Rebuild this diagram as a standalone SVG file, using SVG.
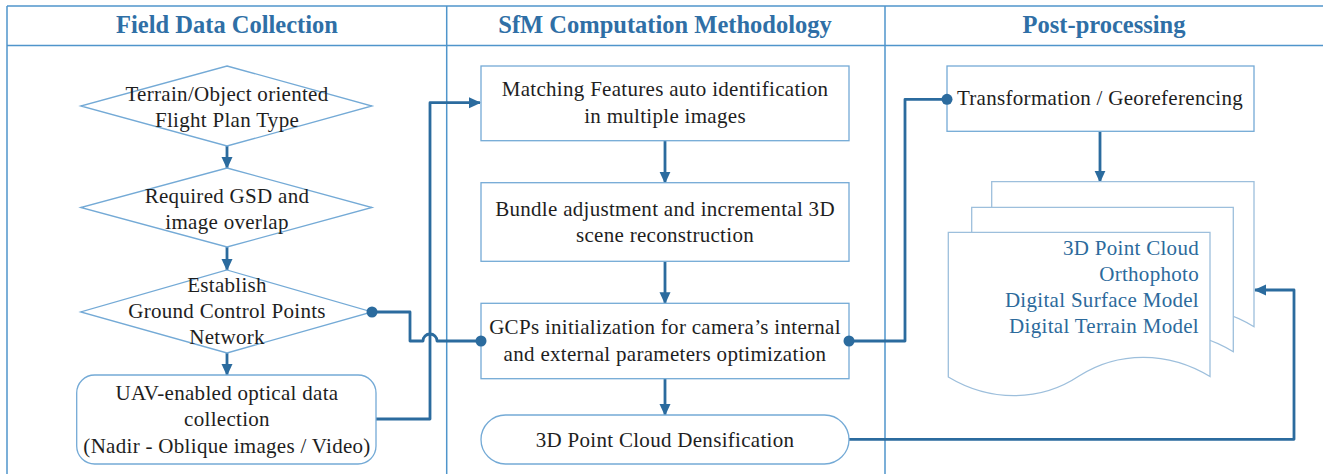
<svg xmlns="http://www.w3.org/2000/svg" width="1323" height="474" viewBox="0 0 1323 474">
<style>
.frame{stroke:#4f95cb;stroke-width:1.5;fill:none}
.hdr{font-weight:bold;font-size:24.5px;fill:#2f6fa6;text-anchor:middle}
.node{fill:#fff;stroke:#74aad6;stroke-width:1.3}
.doc{fill:#fff;stroke:#9dbfdc;stroke-width:1.3}
.t{font-size:21px;fill:#1e1e1e;text-anchor:middle;letter-spacing:0.3px}
.dt{font-size:21px;fill:#2c6a9c;text-anchor:end;letter-spacing:0.3px}
.c{fill:none;stroke:#2b6b9e;stroke-width:2.8;stroke-linejoin:round}
.dot{fill:#2b6b9e}
</style>
<defs>
<marker id="ah" markerUnits="userSpaceOnUse" markerWidth="12" markerHeight="12" viewBox="0 0 12 12" refX="11" refY="6" orient="auto">
<path d="M0,0.5 L12,6 L0,11.5 Z" fill="#2b6b9e"/>
</marker>
</defs>
<rect width="1323" height="474" fill="#fff"/>
<g font-family="Liberation Serif, Times New Roman, serif">
<g id="frame">
<line class="frame" x1="7" y1="6" x2="1323" y2="6"/>
<line class="frame" x1="7" y1="45.5" x2="1323" y2="45.5"/>
<line class="frame" x1="7" y1="6" x2="7" y2="474"/>
<line class="frame" x1="446.7" y1="6" x2="446.7" y2="474"/>
<line class="frame" x1="885" y1="6" x2="885" y2="474"/>
<text class="hdr" x="227" y="33">Field Data Collection</text>
<text class="hdr" x="665" y="33">SfM Computation Methodology</text>
<text class="hdr" x="1104" y="33">Post-processing</text>
</g>
<g id="connectors">
<line class="c" x1="227" y1="146" x2="227" y2="168" marker-end="url(#ah)"/>
<line class="c" x1="227" y1="247" x2="227" y2="270" marker-end="url(#ah)"/>
<line class="c" x1="227" y1="353" x2="227" y2="375" marker-end="url(#ah)"/>
<path class="c" d="M376,419 H430 V102.7 H480" marker-end="url(#ah)"/>
<path class="c" d="M372,312 H410 V341 H423 A7,7 0 0 1 437,341 H481"/>
<line class="c" x1="665" y1="140.7" x2="665" y2="182.7" marker-end="url(#ah)"/>
<line class="c" x1="665" y1="261.3" x2="665" y2="303.3" marker-end="url(#ah)"/>
<line class="c" x1="665" y1="378.7" x2="665" y2="415" marker-end="url(#ah)"/>
<path class="c" d="M849,341 H905 V99.3 H947"/>
<line class="c" x1="1100" y1="131.3" x2="1100" y2="181.7" marker-end="url(#ah)"/>
<path class="c" d="M849,439.3 H1294 V290 H1255" marker-end="url(#ah)"/>
</g>
<g id="n1">
<polygon class="node" points="227,66 372,106 227,146 80.7,106"/>
<text class="t" x="227" y="101">Terrain/Object oriented</text>
<text class="t" x="227" y="127">Flight Plan Type</text>
</g>
<g id="n2">
<polygon class="node" points="227,168 372,207.5 227,247 80.7,207.5"/>
<text class="t" x="227" y="203">Required GSD and</text>
<text class="t" x="227" y="228.5">image overlap</text>
</g>
<g id="n3">
<polygon class="node" points="227,270 372,312 227,353 80.7,312"/>
<text class="t" x="227" y="292">Establish</text>
<text class="t" x="227" y="318">Ground Control Points</text>
<text class="t" x="227" y="343.5">Network</text>
</g>
<g id="n4">
<rect class="node" x="76.7" y="375" width="299.3" height="89" rx="18"/>
<text class="t" x="227" y="400">UAV-enabled optical data</text>
<text class="t" x="227" y="426">collection</text>
<text class="t" x="227" y="452.5">(Nadir - Oblique images / Video)</text>
</g>
<g id="m1">
<rect class="node" x="481" y="66" width="368" height="74.7"/>
<text class="t" x="665" y="96">Matching Features auto identification</text>
<text class="t" x="665" y="122.5">in multiple images</text>
</g>
<g id="m2">
<rect class="node" x="481" y="182.7" width="368" height="78.6"/>
<text class="t" x="665" y="216">Bundle adjustment and incremental 3D</text>
<text class="t" x="665" y="241.7">scene reconstruction</text>
</g>
<g id="m3">
<rect class="node" x="481" y="303.3" width="368" height="75.4"/>
<text class="t" x="665" y="334.3">GCPs initialization for camera’s internal</text>
<text class="t" x="665" y="360.7">and external parameters optimization</text>
</g>
<g id="m4">
<rect class="node" x="481" y="415" width="368" height="49" rx="24.5"/>
<text class="t" x="665" y="446.7">3D Point Cloud Densification</text>
</g>
<g id="p1">
<rect class="node" x="947" y="66" width="307" height="65.3"/>
<text class="t" x="1100" y="105">Transformation / Georeferencing</text>
</g>
<g id="p2">
<path class="doc" d="M991.7,181.7 H1254 V326.7 C1212,301 1162,301 1123,326 C1084,352 1034,352 991.7,327 Z"/>
<path class="doc" d="M971.7,207.3 H1233.3 V351.7 C1191,326 1141,326 1102,351 C1063,377 1013,377 971.7,352 Z"/>
<path class="doc" d="M948.3,232.3 H1210 V376.5 C1168,351 1118,351 1079,376 C1040,402 990,402 948.3,377 Z"/>
<text class="dt" x="1199" y="255">3D Point Cloud</text>
<text class="dt" x="1199" y="281">Orthophoto</text>
<text class="dt" x="1199" y="306.7">Digital Surface Model</text>
<text class="dt" x="1199" y="332.7">Digital Terrain Model</text>
</g>
<g id="connector-ends">
<circle class="dot" cx="372" cy="312" r="5.5"/>
<circle class="dot" cx="481" cy="341" r="5.5"/>
<circle class="dot" cx="849" cy="341" r="5.5"/>
<circle class="dot" cx="947" cy="99.3" r="5.5"/>
</g>
</g>
</svg>
